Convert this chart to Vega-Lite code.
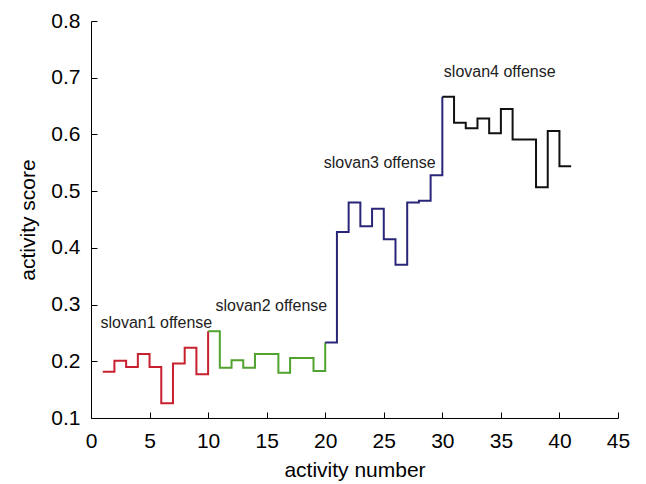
{
  "$schema": "https://vega.github.io/schema/vega-lite/v6.json",
  "width": 527,
  "height": 397,
  "autosize": "none",
  "padding": {"left": 91, "top": 21, "right": 28, "bottom": 66},
  "background": "white",
  "config": {
    "view": {"stroke": null},
    "font": "Liberation Sans",
    "axis": {
      "grid": false,
      "domainColor": "#000000",
      "tickColor": "#000000",
      "labelColor": "#000000",
      "titleColor": "#000000",
      "labelFontSize": 21,
      "titleFontSize": 21,
      "titleFontWeight": "normal",
      "labelFlush": false,
      "tickSize": -6,
      "domainWidth": 1,
      "tickWidth": 1
    }
  },
  "datasets": {
    "series": [
      {"n": 1, "score": 0.1815, "team": "slovan1"},
      {"n": 2, "score": 0.201, "team": "slovan1"},
      {"n": 3, "score": 0.190, "team": "slovan1"},
      {"n": 4, "score": 0.213, "team": "slovan1"},
      {"n": 5, "score": 0.190, "team": "slovan1"},
      {"n": 6, "score": 0.126, "team": "slovan1"},
      {"n": 7, "score": 0.196, "team": "slovan1"},
      {"n": 8, "score": 0.224, "team": "slovan1"},
      {"n": 9, "score": 0.177, "team": "slovan1"},
      {"n": 10, "score": 0.253, "team": "slovan1"},
      {"n": 10, "score": 0.253, "team": "slovan2"},
      {"n": 11, "score": 0.1886, "team": "slovan2"},
      {"n": 12, "score": 0.202, "team": "slovan2"},
      {"n": 13, "score": 0.1886, "team": "slovan2"},
      {"n": 14, "score": 0.2127, "team": "slovan2"},
      {"n": 15, "score": 0.2127, "team": "slovan2"},
      {"n": 16, "score": 0.180, "team": "slovan2"},
      {"n": 17, "score": 0.206, "team": "slovan2"},
      {"n": 18, "score": 0.206, "team": "slovan2"},
      {"n": 19, "score": 0.183, "team": "slovan2"},
      {"n": 20, "score": 0.233, "team": "slovan2"},
      {"n": 20, "score": 0.233, "team": "slovan3"},
      {"n": 21, "score": 0.428, "team": "slovan3"},
      {"n": 22, "score": 0.480, "team": "slovan3"},
      {"n": 23, "score": 0.438, "team": "slovan3"},
      {"n": 24, "score": 0.469, "team": "slovan3"},
      {"n": 25, "score": 0.415, "team": "slovan3"},
      {"n": 26, "score": 0.370, "team": "slovan3"},
      {"n": 27, "score": 0.480, "team": "slovan3"},
      {"n": 28, "score": 0.483, "team": "slovan3"},
      {"n": 29, "score": 0.528, "team": "slovan3"},
      {"n": 30, "score": 0.6665, "team": "slovan3"},
      {"n": 30, "score": 0.6665, "team": "slovan4"},
      {"n": 31, "score": 0.6207, "team": "slovan4"},
      {"n": 32, "score": 0.6107, "team": "slovan4"},
      {"n": 33, "score": 0.628, "team": "slovan4"},
      {"n": 34, "score": 0.602, "team": "slovan4"},
      {"n": 35, "score": 0.645, "team": "slovan4"},
      {"n": 36, "score": 0.591, "team": "slovan4"},
      {"n": 37, "score": 0.591, "team": "slovan4"},
      {"n": 38, "score": 0.507, "team": "slovan4"},
      {"n": 39, "score": 0.606, "team": "slovan4"},
      {"n": 40, "score": 0.5437, "team": "slovan4"},
      {"n": 41, "score": 0.5437, "team": "slovan4"}
    ],
    "labels": [
      {"n": 5.58, "score": 0.2668, "label": "slovan1 offense"},
      {"n": 15.4, "score": 0.2974, "label": "slovan2 offense"},
      {"n": 24.65, "score": 0.550, "label": "slovan3 offense"},
      {"n": 34.9, "score": 0.710, "label": "slovan4 offense"}
    ]
  },
  "layer": [
    {
      "data": {"name": "series"},
      "mark": {"type": "line", "interpolate": "step-after", "strokeWidth": 2},
      "encoding": {
        "x": {
          "field": "n",
          "type": "quantitative",
          "scale": {"domain": [0, 45], "nice": false, "zero": false},
          "axis": {
            "title": "activity number",
            "values": [0, 5, 10, 15, 20, 25, 30, 35, 40, 45],
            "labelPadding": 18,
            "titlePadding": 8
          }
        },
        "y": {
          "field": "score",
          "type": "quantitative",
          "scale": {"domain": [0.1, 0.8], "nice": false, "zero": false},
          "axis": {
            "title": "activity score",
            "values": [0.1, 0.2, 0.3, 0.4, 0.5, 0.6, 0.7, 0.8],
            "format": ".1f",
            "labelPadding": 17,
            "titlePadding": 12
          }
        },
        "color": {
          "field": "team",
          "type": "nominal",
          "scale": {
            "domain": ["slovan1", "slovan2", "slovan3", "slovan4"],
            "range": ["#c8202f", "#4fa32e", "#29267a", "#111111"]
          },
          "legend": null
        },
        "order": {"field": "n", "type": "quantitative"}
      }
    },
    {
      "data": {"name": "labels"},
      "mark": {"type": "text", "fontSize": 16, "color": "#222222", "baseline": "middle", "align": "center"},
      "encoding": {
        "x": {"field": "n", "type": "quantitative"},
        "y": {"field": "score", "type": "quantitative"},
        "text": {"field": "label"}
      }
    }
  ]
}
